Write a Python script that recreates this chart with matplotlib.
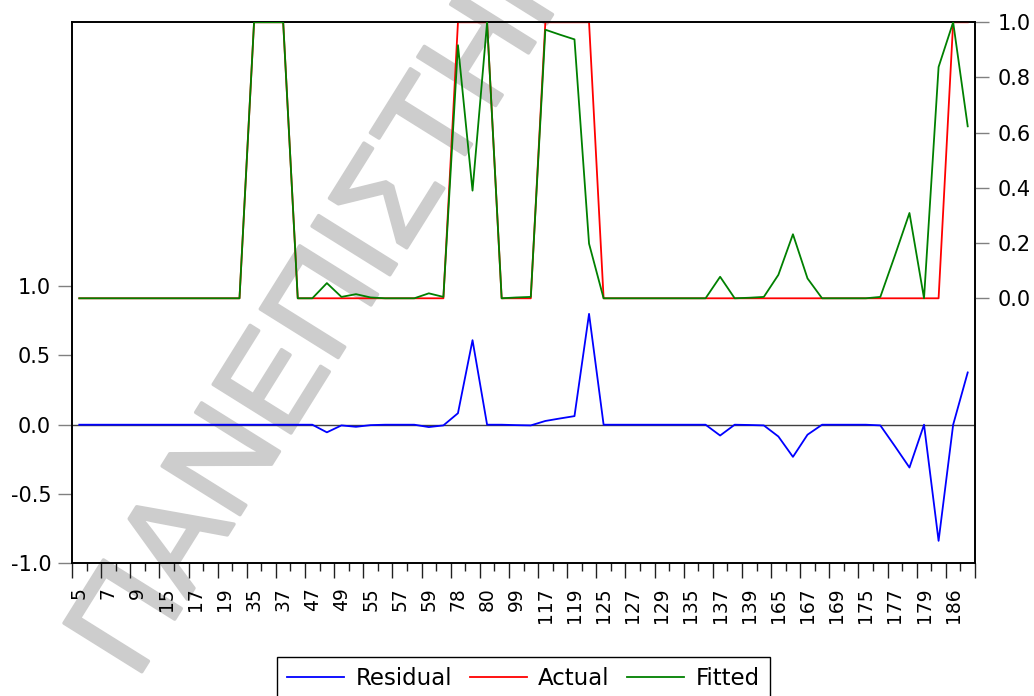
import matplotlib
matplotlib.use("Agg")
import matplotlib.pyplot as plt
import matplotlib.patheffects as pe
import numpy as np

obs_labels = ["5", "7", "9", "15", "17", "19", "35", "37", "47", "49", "55",
              "57", "59", "78", "80", "99", "117", "119", "125", "127", "129",
              "135", "137", "139", "165", "167", "169", "175", "177", "179", "186"]

actual = [0, 0, 0, 0, 0, 0, 0, 0, 0, 0, 0, 0,
          1, 1, 1,
          0, 0, 0, 0, 0, 0, 0, 0, 0, 0, 0,
          1, 1, 1,
          0, 0, 0,
          1, 1, 1, 1,
          0, 0, 0, 0, 0, 0, 0, 0, 0, 0, 0, 0, 0, 0, 0, 0, 0, 0, 0, 0, 0, 0, 0, 0,
          1, 1]

fitted = [0, 0, 0, 0, 0, 0, 0, 0, 0, 0, 0, 0,
          1.0, 1.0, 1.0,
          0.0, 0.0, 0.055, 0.005, 0.015, 0.003, 0.0, 0.0, 0.0, 0.018, 0.005,
          0.917, 0.39, 1.0,
          0.0, 0.003, 0.005,
          0.973, 0.955, 0.938, 0.198,
          0.0, 0.0, 0.0, 0.0, 0.0, 0.0, 0.0, 0.0, 0.078, 0.0, 0.002, 0.005,
          0.085, 0.232, 0.072, 0.0, 0.0, 0.0, 0.0, 0.005, 0.155, 0.309, 0.0, 0.838,
          1.0, 0.623]

residual = [0, 0, 0, 0, 0, 0, 0, 0, 0, 0, 0, 0,
            0, 0, 0,
            0.0, 0.0, -0.055, -0.005, -0.015, -0.003, 0.0, 0.0, 0.0, -0.017, -0.005,
            0.083, 0.61, 0.0,
            0.0, -0.003, -0.005,
            0.027, 0.045, 0.062, 0.80,
            0.0, 0.0, 0.0, 0.0, 0.0, 0.0, 0.0, 0.0, -0.078, 0.0, -0.002, -0.005,
            -0.085, -0.232, -0.072, 0.0, 0.0, 0.0, 0.0, -0.005, -0.155, -0.309, 0.0, -0.838,
            0.0, 0.377]

left_ticks = [-1.0, -0.5, 0.0, 0.5, 1.0]
right_ticks = [0.0, 0.2, 0.4, 0.6, 0.8, 1.0]

n = len(actual)
x = np.arange(n)

W, H = 1034, 696
fig = plt.figure(figsize=(W / 100, H / 100), dpi=100)
fig.patch.set_facecolor("white")

# watermark (behind everything)
wm_color = "#cdcdcd"
fig.text(136 / W, 1 - 681 / H, "ΠΑΝΕΠΙΣΤΗΜΙΟ", rotation=58,
         rotation_mode="anchor", ha="left", va="baseline",
         fontsize=96, family="Liberation Sans", color=wm_color, zorder=-5,
         path_effects=[pe.withStroke(linewidth=2.5, foreground=wm_color)])

left, right, top, bottom = 72 / W, 975 / W, 1 - 21.7 / H, 1 - 563.3 / H
ax = fig.add_axes([left, bottom, right - left, top - bottom])
ax.set_facecolor("none")
ax2 = ax.twinx()
ax2.set_facecolor("none")

ax.axhline(0, color="#404040", lw=1.0, zorder=1)
l_res, = ax.plot(x, residual, color="#0000ff", lw=1.3, label="Residual", zorder=3)
l_act, = ax2.plot(x, actual, color="#ff0000", lw=1.3, label="Actual", zorder=2)
l_fit, = ax2.plot(x, fitted, color="#008000", lw=1.3, label="Fitted", zorder=3)

ax.set_xlim(-0.5, n - 0.5)
ax.set_ylim(-1.0, 2.908)
ax2.set_ylim(-0.96, 1.002)

ax.set_yticks(left_ticks)
ax.set_yticklabels([f"{v:.1f}" for v in left_ticks])
ax2.set_yticks(right_ticks)
ax2.set_yticklabels([f"{v:.1f}" for v in right_ticks])

ax.tick_params(axis="y", direction="out", length=10, width=1, color="#808080",
               labelsize=15, pad=5)
ax2.tick_params(axis="y", direction="out", length=10, width=1, color="#808080",
                labelsize=15, pad=6)

# x tick marks at observation boundaries
ax.set_xticks(np.arange(-0.5, n, 2))
ax.set_xticks(np.arange(0.5, n, 2), minor=True)
ax.tick_params(axis="x", which="major", direction="out", length=11, width=1,
               color="#202020", labelbottom=False)
ax.tick_params(axis="x", which="minor", direction="out", length=6, width=1,
               color="#202020")

# labels at every second observation
sec = ax.secondary_xaxis("bottom")
sec.set_xticks(x[::2])
sec.set_xticklabels(obs_labels, rotation=90)
sec.tick_params(axis="x", length=0, labelsize=13.5, pad=17)
sec.spines["bottom"].set_visible(False)

for a in (ax, ax2):
    for s in a.spines.values():
        s.set_color("black")
        s.set_linewidth(1.2)

leg = fig.legend(handles=[l_res, l_act, l_fit], loc="upper center",
                 bbox_to_anchor=(523.5 / W, 1 - 657 / H), ncol=3,
                 fontsize=16.5, frameon=True, fancybox=False, framealpha=1,
                 edgecolor="black", handlelength=2.5, handletextpad=0.5,
                 columnspacing=0.75, borderpad=0.45, borderaxespad=0)
leg.get_frame().set_linewidth(1.0)

fig.savefig("out.png", dpi=100)
